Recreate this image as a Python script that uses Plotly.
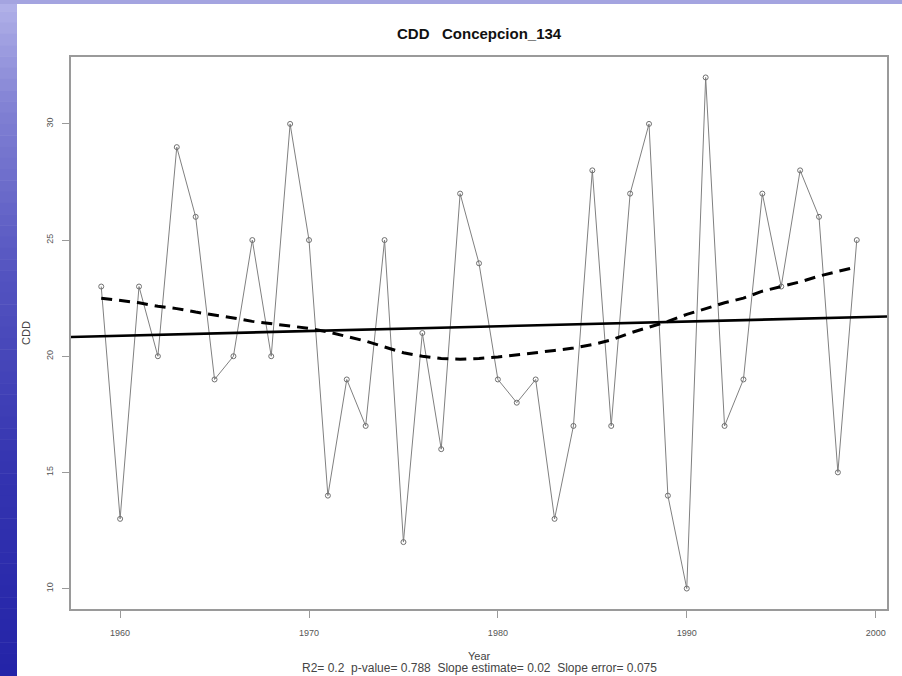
import numpy as np
import plotly.graph_objects as go

# ---------------- data ----------------
years = list(range(1959, 2000))
cdd = [23, 13, 23, 20, 29, 26, 19, 20, 25, 20,
       30, 25, 14, 19, 17, 25, 12, 21, 16, 27,
       24, 19, 18, 19, 13, 17, 28, 17, 27, 30,
       14, 10, 32, 17, 19, 27, 23, 28, 26, 15,
       25]
# smoothed curve (dashed)
smooth = [22.5, 22.4, 22.3, 22.15, 22.05, 21.9, 21.78, 21.65, 21.5, 21.4,
          21.3, 21.2, 21.05, 20.85, 20.65, 20.4, 20.15, 20.0, 19.9, 19.87,
          19.9, 19.97, 20.05, 20.15, 20.25, 20.35, 20.5, 20.7, 21.0, 21.25,
          21.5, 21.8, 22.05, 22.3, 22.5, 22.8, 23.0, 23.2, 23.45, 23.65,
          23.85]
x_ticks = [1960, 1970, 1980, 1990, 2000]
y_ticks = [10, 15, 20, 25, 30]
title_text = "<b>CDD   Concepcion_134</b>"
x_title = "Year"
y_title = "CDD"
stats_text = "R2= 0.2  p-value= 0.788  Slope estimate= 0.02  Slope error= 0.075"

# ---------------- layout geometry ----------------
W, H = 902, 676
ML, MR, MT, MB = 71, 15, 57, 67
PW, PH = W - ML - MR, H - MT - MB
x_range = [1957.4, 2000.6]
y_range = [9.12, 32.88]

def px_x(p):
    return (p - ML) / PW

def px_y(p):
    return (H - MB - p) / PH

# linear trend (OLS on the data)
slope, intercept = np.polyfit(years, cdd, 1)
trend_x = x_range
trend_y = [intercept + slope * v for v in trend_x]

fig = go.Figure()

fig.add_trace(go.Scatter(
    x=years, y=cdd, mode="lines+markers",
    line=dict(color="#808080", width=1),
    marker=dict(symbol="circle-open", size=5, color="#707070", line=dict(width=1)),
    hoverinfo="x+y", showlegend=False))

fig.add_trace(go.Scatter(
    x=trend_x, y=trend_y, mode="lines",
    line=dict(color="black", width=2.6), showlegend=False))

fig.add_trace(go.Scatter(
    x=years, y=smooth, mode="lines",
    line=dict(color="black", width=3, dash="11px,7px"), showlegend=False))

# ---------------- slide background (blue gradient strips) ----------------
def lerp_color(stops, t):
    for (t0, c0), (t1, c1) in zip(stops[:-1], stops[1:]):
        if t0 <= t <= t1:
            f = (t - t0) / (t1 - t0) if t1 > t0 else 0
            c = [int(round(c0[i] + (c1[i] - c0[i]) * f)) for i in range(3)]
            return "rgb(%d,%d,%d)" % tuple(c)
    c = stops[-1][1]
    return "rgb(%d,%d,%d)" % tuple(c)

stops = [(0.0, (176, 176, 232)), (0.15, (130, 130, 212)), (0.4, (84, 84, 192)),
         (0.7, (52, 52, 176)), (1.0, (36, 36, 168))]
shapes = []
nb = 60
for i in range(nb):
    y0p = H * i / nb
    y1p = H * (i + 1) / nb + 0.5
    shapes.append(dict(type="rect", xref="paper", yref="paper",
                       x0=px_x(0), x1=px_x(17), y0=px_y(y1p), y1=px_y(y0p),
                       fillcolor=lerp_color(stops, i / (nb - 1)), line=dict(width=0),
                       layer="below"))
# top strip
shapes.append(dict(type="rect", xref="paper", yref="paper",
                   x0=px_x(0), x1=px_x(W), y0=px_y(4), y1=px_y(0),
                   fillcolor="rgb(164,164,224)", line=dict(width=0), layer="below"))

annotations = [
    dict(text=title_text, xref="paper", yref="paper", x=0.5, y=px_y(33),
         showarrow=False, xanchor="center", yanchor="middle",
         font=dict(family="Liberation Sans, Arial", size=15, color="#111")),
    dict(text=x_title, xref="paper", yref="paper", x=0.5, y=px_y(656),
         showarrow=False, xanchor="center", yanchor="middle",
         font=dict(family="Liberation Sans, Arial", size=11, color="#444")),
    dict(text=stats_text, xref="paper", yref="paper", x=0.5, y=px_y(668),
         showarrow=False, xanchor="center", yanchor="middle",
         font=dict(family="Liberation Sans, Arial", size=12, color="#444")),
    dict(text=y_title, xref="paper", yref="paper", x=px_x(26), y=0.5,
         showarrow=False, xanchor="center", yanchor="middle", textangle=-90,
         font=dict(family="Liberation Sans, Arial", size=11, color="#444")),
]

axis_common = dict(showgrid=False, zeroline=False, showline=True, mirror=True,
                   linecolor="#9a9a9a", linewidth=1.5, ticks="outside", ticklen=7,
                   tickcolor="#9a9a9a", tickwidth=1.2,
                   tickfont=dict(family="Liberation Sans, Arial", size=9, color="#555"))

fig.update_layout(
    width=W, height=H,
    margin=dict(l=ML, r=MR, t=MT, b=MB),
    paper_bgcolor="white", plot_bgcolor="white",
    showlegend=False,
    xaxis=dict(range=x_range, tickvals=x_ticks, ticklabelstandoff=7, **axis_common),
    yaxis=dict(range=y_range, tickvals=y_ticks, tickangle=-90, ticklabelstandoff=6,
               **axis_common),
    shapes=shapes, annotations=annotations,
)

fig.write_html("out.html", config={"displayModeBar": False},
               post_script="document.body.style.margin='0px';document.body.style.overflow='hidden';")
